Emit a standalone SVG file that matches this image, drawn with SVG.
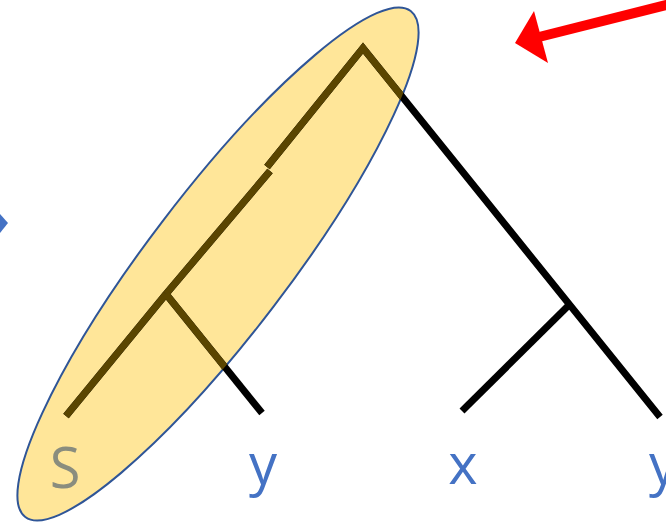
<svg xmlns="http://www.w3.org/2000/svg" width="666" height="527" viewBox="0 0 666 527">
<style>
.br{fill:none;stroke:#000;stroke-width:7;stroke-linecap:butt;stroke-linejoin:miter}
.in{stroke:#5A4500}
.lbl{font-family:"Open Sans","Liberation Sans",sans-serif;font-size:56px;text-anchor:middle}
</style>
<defs>
<clipPath id="ell"><ellipse cx="218" cy="264" rx="318" ry="70" transform="rotate(-52.7 218 264)"/></clipPath>
</defs>
<rect width="666" height="527" fill="#fff"/>
<g id="highlight">
<ellipse cx="218" cy="264" rx="318" ry="70" transform="rotate(-52.7 218 264)" fill="#FFE699" stroke="#2F5597" stroke-width="2"/>
</g>
<g id="connectors">
<g class="br">
<polyline points="267,167 363,48 660,417"/>
<line x1="270" y1="171" x2="166" y2="294"/>
<line x1="166" y1="294" x2="66" y2="416"/>
<line x1="166" y1="294" x2="262" y2="413"/>
<line x1="568" y1="306" x2="462" y2="411"/>
</g>
<g class="br in" clip-path="url(#ell)">
<polyline points="267,167 363,48 660,417"/>
<line x1="270" y1="171" x2="166" y2="294"/>
<line x1="166" y1="294" x2="66" y2="416"/>
<line x1="166" y1="294" x2="262" y2="413"/>
</g>
</g>
<g id="label-S"><text class="lbl" x="65" y="488" fill="#8A8D7E">S</text></g>
<g id="label-y1"><text class="lbl" x="263" y="484" fill="#4472C4">y</text></g>
<g id="label-x"><text class="lbl" x="463" y="484" fill="#4472C4">x</text></g>
<g id="label-y2"><text class="lbl" x="663" y="484" fill="#4472C4">y</text></g>
<g id="red-arrow">
<line x1="670" y1="4" x2="535" y2="38" stroke="#FF0000" stroke-width="10"/>
<polygon points="515,43 534,11 548,63" fill="#FF0000"/>
</g>
<g id="blue-arrow">
<polygon points="0,214 8,223 0,233" fill="#4472C4"/>
</g>
</svg>
